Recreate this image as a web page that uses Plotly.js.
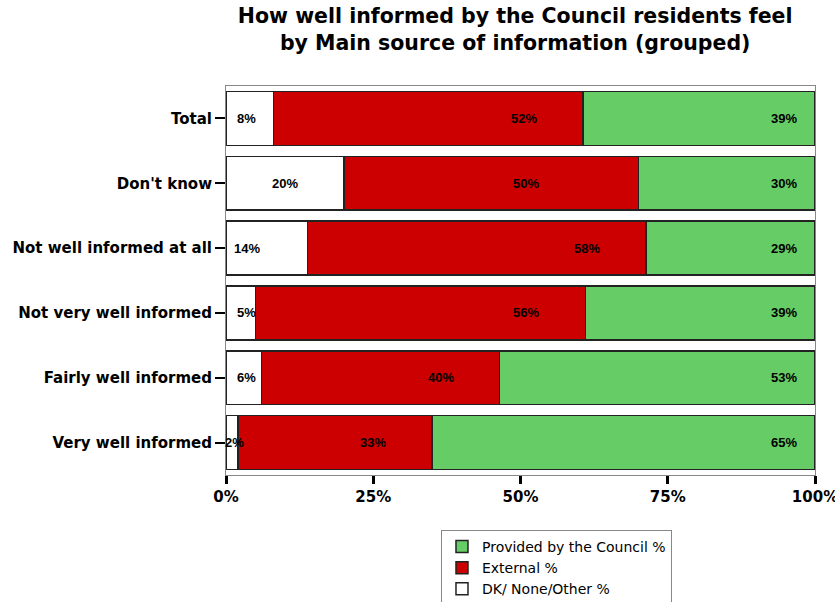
<!DOCTYPE html>
<html>
<head>
<meta charset="utf-8">
<script src="https://cdn.plot.ly/plotly-3.0.1.min.js"></script>
<style>html,body{margin:0;padding:0;background:#fff;}</style>
</head>
<body>
<div id="chart" style="width:835px;height:602px;"></div>
<script>
const categories = ["Total", "Don't know", "Not well informed at all", "Not very well informed", "Fairly well informed", "Very well informed"];
const dkOther = [8, 20, 14, 5, 6, 2];
const external = [52, 50, 58, 56, 40, 33];
const council = [39, 30, 29, 39, 53, 65];
const seriesNames = ["DK/ None/Other %", "External %", "Provided by the Council %"];
const seriesColors = ["#ffffff", "#cc0000", "#66cc66"];
const xTickVals = [0, 25, 50, 75, 100];
const xTickText = ["0%", "25%", "50%", "75%", "100%"];

const series = [dkOther, external, council];
const traces = series.map((vals, i) => ({
  type: 'bar',
  orientation: 'h',
  name: seriesNames[i],
  y: categories,
  x: vals,
  marker: {color: seriesColors[i], line: {color: '#222', width: 1.5}},
  hoverinfo: 'x+y'
}));

const BOLD = 'DejaVu Sans, Verdana, sans-serif';
const annotations = [];
categories.forEach((c, k) => {
  const tot = dkOther[k] + external[k] + council[k];
  const dkN = dkOther[k] / tot * 100;
  const extEnd = (dkOther[k] + external[k]) / tot * 100;
  const dkX = dkOther[k] >= 18 ? dkN / 2 : Math.min(dkOther[k] * 0.75, 3.5);
  const extX = extEnd - (dkOther[k] >= 18 ? 19 : 10);
  const font = {family: 'Liberation Sans, Arial, sans-serif', size: 13, color: '#000', weight: 'bold'};
  annotations.push({x: dkX, y: c, xref: 'x', yref: 'y', text: '<b>' + dkOther[k] + '%</b>', showarrow: false, font: font});
  annotations.push({x: extX, y: c, xref: 'x', yref: 'y', text: '<b>' + external[k] + '%</b>', showarrow: false, font: font});
  annotations.push({x: 94.8, y: c, xref: 'x', yref: 'y', text: '<b>' + council[k] + '%</b>', showarrow: false, font: font});
});

const layout = {
  width: 835, height: 602,
  margin: {l: 226, r: 20, t: 86, b: 127, autoexpand: false},
  paper_bgcolor: '#fff', plot_bgcolor: '#fff',
  barmode: 'stack',
  barnorm: 'percent',
  bargap: 0.17,
  title: {
    text: '<b>How well informed by the Council residents feel<br>by Main source of information (grouped)</b>',
    font: {family: BOLD, size: 20.5, color: '#000'},
    x: 0.617, xanchor: 'center', y: 0.962, yanchor: 'top', yref: 'container'
  },
  xaxis: {
    range: [0, 100], tickvals: xTickVals, ticktext: xTickText,
    ticklabeloverflow: 'allow',
    showgrid: false, zeroline: false,
    showline: true, linecolor: '#888', linewidth: 1, mirror: true,
    ticks: 'outside', ticklen: 8, tickwidth: 3, tickcolor: '#000',
    tickfont: {family: BOLD, size: 15, color: '#000', weight: 'bold'}
  },
  yaxis: {
    type: 'category', autorange: 'reversed',
    showgrid: false, zeroline: false,
    showline: true, linecolor: '#888', linewidth: 1, mirror: true,
    ticks: 'outside', ticklen: 10, tickwidth: 2, tickcolor: '#000',
    tickfont: {family: BOLD, size: 15, color: '#000', weight: 'bold'}
  },
  showlegend: true,
  legend: {
    traceorder: 'reversed',
    x: 0.365, xanchor: 'left', y: -0.141, yanchor: 'top',
    bordercolor: '#888', borderwidth: 1, bgcolor: '#fff',
    font: {family: 'DejaVu Sans, Verdana, sans-serif', size: 14, color: '#000'},
    itemwidth: 30, tracegroupgap: 0
  },
  annotations: annotations
};

Plotly.newPlot('chart', traces, layout, {displayModeBar: false, staticPlot: true});
</script>
</body>
</html>
